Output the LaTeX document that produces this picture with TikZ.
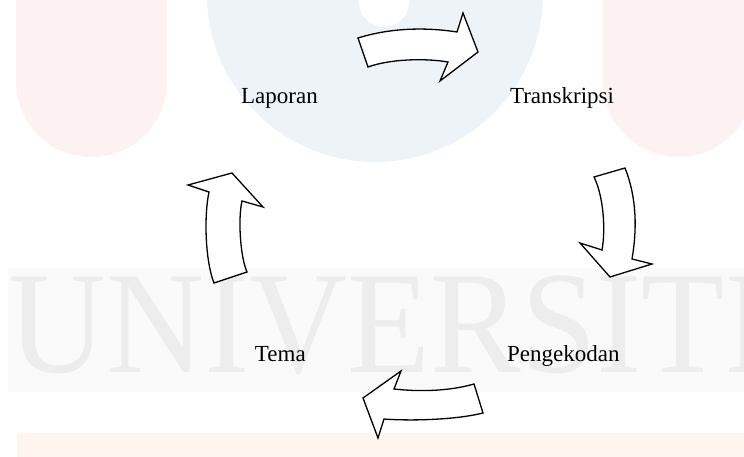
\documentclass[tikz,border=0pt]{standalone}
\usepackage{fontspec}
\setmainfont{Liberation Serif}
\definecolor{wmpink}{HTML}{FDF1F1}
\definecolor{wmblue}{HTML}{EEF3F8}
\definecolor{wmgray}{HTML}{EDEDED}
\definecolor{wmband}{HTML}{FAFAFA}
\definecolor{wmpeach}{HTML}{FEF6EE}
\tikzset{
  stage/.style={font=\fontsize{23}{27}\selectfont, text=black, inner sep=0pt, anchor=base},
  blockarrow/.style={draw=black, fill=white, line width=1.3pt, line join=miter}
}
\begin{document}
\begin{tikzpicture}[x=1pt,y=-1pt]
  \useasboundingbox (0,0) rectangle (744,457);
  \clip (0,0) rectangle (744,457);
  % faint background emblem and lettering
  \fill[white] (0,0) rectangle (744,457);
  \fill[wmband] (8,268) rectangle (744,392);
  \fill[wmpink] (16,-10) rectangle (167,81.5);
  \fill[wmpink] (91.5,81.5) circle[radius=75.5];
  \fill[wmpink] (603,-10) rectangle (754,81.5);
  \fill[wmpink] (678.5,81.5) circle[radius=75.5];
  \fill[wmblue] (375,-6) circle[radius=168];
  \fill[white] (384,2) circle[radius=25];
  \node[anchor=base west, inner sep=0pt, text=wmgray, xscale=0.93,
        font=\fontsize{146}{150}\selectfont] (wordmark) at (8,372) {UNIVERSITI};
  \fill[wmpeach] (17,433) rectangle (744,460);

  % stage labels
  \node[stage] (laporan) at (279.5,103.7) {Laporan};
  \node[stage] (transkripsi) at (562,103.7) {Transkripsi};
  \node[stage] (pengekodan) at (563.3,361.7) {Pengekodan};
  \node[stage] (tema) at (280.3,361.7) {Tema};

  % curved block arrows of the cycle
  \draw[blockarrow] (358,38) .. controls (390,28) and (425,27) .. (457,32)
    -- (463,13) -- (478,52) -- (440,81) -- (448,62)
    .. controls (425,58) and (390,59) .. (368,67) -- cycle;
  \draw[blockarrow] (594,177) -- (625,168)
    .. controls (637,198) and (637,230) .. (632,259)
    -- (652,264) -- (610,277) -- (580,243) -- (602,250)
    .. controls (606,228) and (603,195) .. (594,177) -- cycle;
  \draw[blockarrow] (474,384) -- (483,413)
    .. controls (455,420) and (410,421) .. (384,419)
    -- (378,438) -- (363,398) -- (401,371) -- (394,389)
    .. controls (420,392) and (450,391) .. (474,384) -- cycle;
  \draw[blockarrow] (214,283) -- (247,272)
    .. controls (240,256) and (238,218) .. (242,201)
    -- (263,207) -- (232,173) -- (188,185) -- (209,192)
    .. controls (204,215) and (205,260) .. (214,283) -- cycle;
\end{tikzpicture}
\end{document}
